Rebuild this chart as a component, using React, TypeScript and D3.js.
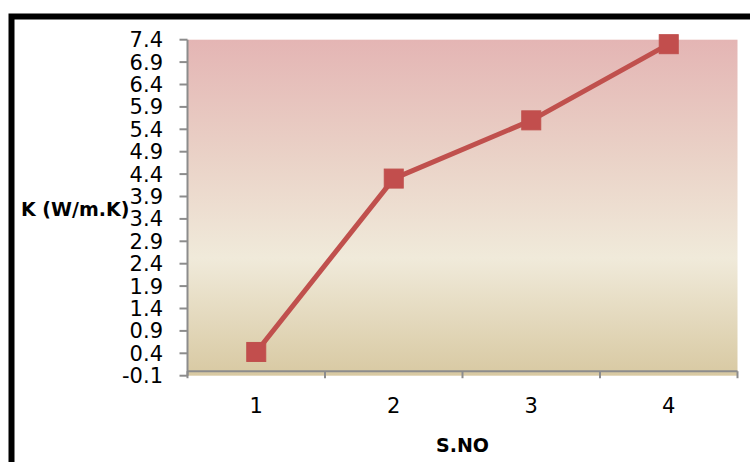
import React from "react";
import * as d3 from "d3";

const categories = ["1", "2", "3", "4"];
const kValues = [0.43, 4.3, 5.6, 7.3];
const yTicks = [-0.1, 0.4, 0.9, 1.4, 1.9, 2.4, 2.9, 3.4, 3.9, 4.4, 4.9, 5.4, 5.9, 6.4, 6.9, 7.4];
const yTitle = "K (W/m.K)";
const xTitle = "S.NO";

export default function App() {
  const W = 750, H = 462;
  const left = 187.5, right = 737.5, top = 39.7, bottom = 375.7;
  const x = d3.scaleBand<string>().domain(categories).range([left, right]);
  const y = d3.scaleLinear().domain([-0.1, 7.4]).range([bottom, top]);
  const cx = (c: string) => (x(c) as number) + x.bandwidth() / 2;
  const line = d3.line<number>().x((_, i) => cx(categories[i])).y((v) => y(v));
  const axisY = y(0);
  const font = "'DejaVu Sans', sans-serif";
  const boundaries = [...categories.map((c) => x(c) as number), right];
  const ms = 19;
  const fmt = (t: number) => d3.format(".1f")(t).replace("\u2212", "-");
  return (
    <svg width={W} height={H} style={{ position: "absolute", left: 0, top: 0, background: "#fff" }}>
      <defs>
        <linearGradient id="bg" x1="0" y1="0" x2="0" y2="1">
          <stop offset="0" stopColor="#e4b5b4" />
          <stop offset="0.35" stopColor="#ead2c7" />
          <stop offset="0.65" stopColor="#f0eada" />
          <stop offset="1" stopColor="#d8c9a2" />
        </linearGradient>
      </defs>
      <rect x={11.5} y={16.5} width={W + 20} height={H + 20} fill="#fff" stroke="#000" strokeWidth={6} />
      <rect x={left} y={top} width={right - left} height={bottom - top} fill="url(#bg)" />
      {/* y axis */}
      <line x1={left} x2={left} y1={top} y2={bottom} stroke="#8c8c8c" strokeWidth={2} />
      {yTicks.map((t) => (
        <g key={t}>
          <line x1={left - 8} x2={left} y1={y(t)} y2={y(t)} stroke="#8c8c8c" strokeWidth={2} />
          <text x={163} y={y(t)} dy="0.36em" textAnchor="end" fontFamily={font} fontSize={21} fill="#000">
            {fmt(t)}
          </text>
        </g>
      ))}
      {/* x axis */}
      <line x1={left} x2={right} y1={axisY} y2={axisY} stroke="#8c8c8c" strokeWidth={2} />
      {boundaries.map((b, i) => (
        <line key={i} x1={b} x2={b} y1={axisY} y2={axisY + 7} stroke="#8c8c8c" strokeWidth={2} />
      ))}
      {categories.map((c) => (
        <text key={c} x={cx(c)} y={405} dy="0.36em" textAnchor="middle" fontFamily={font} fontSize={21} fill="#000">
          {c}
        </text>
      ))}
      {/* series */}
      <path d={line(kValues) || ""} fill="none" stroke="#c0504d" strokeWidth={5} strokeLinejoin="round" />
      {kValues.map((v, i) => (
        <rect key={i} x={cx(categories[i]) - ms / 2} y={y(v) - ms / 2} width={ms} height={ms} fill="#c24e4d" stroke="#c0504d" strokeWidth={1} />
      ))}
      <text x={21} y={209} dy="0.36em" fontFamily={font} fontWeight="bold" fontSize={19} fill="#000">
        {yTitle}
      </text>
      <text x={cx("2") + x.bandwidth() / 2} y={445.5} dy="0.36em" textAnchor="middle" fontFamily={font} fontWeight="bold" fontSize={19} fill="#000">
        {xTitle}
      </text>
    </svg>
  );
}
